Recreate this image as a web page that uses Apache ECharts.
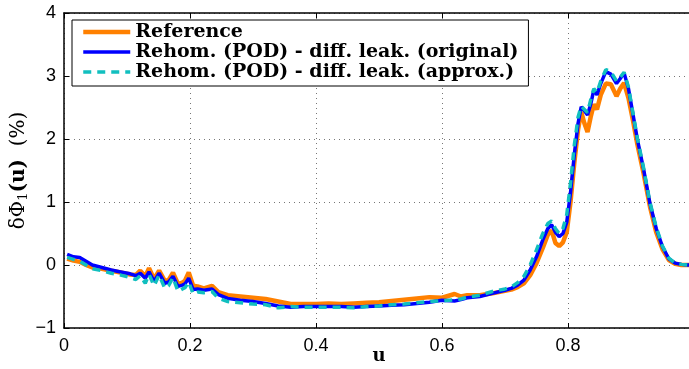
<!DOCTYPE html>
<html>
<head>
<meta charset="utf-8">
<script src="https://cdn.jsdelivr.net/npm/echarts@6/dist/echarts.min.js"></script>
<style>
  html, body { margin: 0; padding: 0; background: #fff; }
  #chart { width: 689px; height: 369px; }
</style>
</head>
<body>
<div id="chart"></div>
<script>
// Abscissa samples u
const uValues = [
  0.005, 0.015, 0.025, 0.035, 0.045, 0.06, 0.075, 0.09, 0.105, 0.114,
  0.121, 0.129, 0.135, 0.143, 0.151, 0.160, 0.166, 0.173, 0.181, 0.188,
  0.192, 0.198, 0.205, 0.212, 0.222, 0.235, 0.245, 0.26, 0.28, 0.30,
  0.32, 0.34, 0.36, 0.38, 0.40, 0.42, 0.44, 0.46, 0.48, 0.50,
  0.52, 0.54, 0.56, 0.58, 0.60, 0.62, 0.63, 0.64, 0.66, 0.68,
  0.70, 0.71, 0.72, 0.73, 0.74, 0.75, 0.76, 0.768, 0.774, 0.78,
  0.786, 0.792, 0.798, 0.804, 0.81, 0.816, 0.821, 0.826, 0.831, 0.836,
  0.841, 0.846, 0.852, 0.86, 0.868, 0.877, 0.883, 0.889, 0.896, 0.903,
  0.91, 0.92, 0.93, 0.94, 0.95, 0.96, 0.97, 0.98, 0.99, 1.0
];

// Reference solution (%)
const referenceValues = [
  0.10, 0.07, 0.05, 0.00, -0.04, -0.06, -0.09, -0.12, -0.15, -0.16,
  -0.09, -0.18, -0.05, -0.22, -0.09, -0.25, -0.24, -0.12, -0.30, -0.28,
  -0.25, -0.12, -0.33, -0.34, -0.37, -0.33, -0.43, -0.48, -0.50, -0.52,
  -0.54, -0.58, -0.62, -0.62, -0.62, -0.61, -0.62, -0.61, -0.60, -0.59,
  -0.57, -0.55, -0.53, -0.51, -0.52, -0.46, -0.50, -0.48, -0.48, -0.45,
  -0.41, -0.39, -0.35, -0.29, -0.16, 0.03, 0.27, 0.48, 0.55, 0.35,
  0.30, 0.36, 0.52, 1.00, 1.62, 2.15, 2.43, 2.25, 2.11, 2.35,
  2.55, 2.47, 2.70, 2.88, 2.87, 2.68, 2.80, 2.89, 2.65, 2.30,
  1.92, 1.45, 0.93, 0.52, 0.25, 0.08, 0.02, 0.00, 0.00, 0.00
];

// Rehomogenization (POD), original diffusion leakage (%)
const originalValues = [
  0.17, 0.13, 0.12, 0.06, 0.00, -0.04, -0.08, -0.11, -0.14, -0.17,
  -0.13, -0.21, -0.11, -0.26, -0.13, -0.29, -0.27, -0.18, -0.34, -0.32,
  -0.30, -0.21, -0.39, -0.38, -0.40, -0.38, -0.47, -0.53, -0.56, -0.58,
  -0.61, -0.65, -0.67, -0.66, -0.66, -0.66, -0.66, -0.67, -0.66, -0.65,
  -0.64, -0.63, -0.61, -0.59, -0.56, -0.57, -0.55, -0.52, -0.50, -0.45,
  -0.40, -0.37, -0.32, -0.24, -0.08, 0.13, 0.40, 0.58, 0.64, 0.52,
  0.45, 0.50, 0.68, 1.15, 1.75, 2.25, 2.51, 2.45, 2.38, 2.55,
  2.78, 2.70, 2.88, 3.07, 3.03, 2.88, 2.96, 3.05, 2.80, 2.40,
  2.00, 1.52, 0.98, 0.58, 0.29, 0.10, 0.03, 0.01, 0.00, 0.00
];

// Rehomogenization (POD), approximated diffusion leakage (%)
const approxValues = [
  0.12, 0.09, 0.06, 0.00, -0.06, -0.09, -0.13, -0.16, -0.20, -0.23,
  -0.17, -0.29, -0.15, -0.33, -0.16, -0.37, -0.33, -0.20, -0.42, -0.38,
  -0.36, -0.27, -0.46, -0.43, -0.44, -0.42, -0.53, -0.58, -0.60, -0.62,
  -0.63, -0.68, -0.66, -0.67, -0.67, -0.67, -0.67, -0.68, -0.66, -0.65,
  -0.63, -0.62, -0.60, -0.58, -0.57, -0.55, -0.54, -0.51, -0.48, -0.42,
  -0.38, -0.35, -0.28, -0.18, 0.00, 0.24, 0.50, 0.66, 0.70, 0.58,
  0.50, 0.58, 0.80, 1.30, 1.90, 2.35, 2.52, 2.47, 2.42, 2.62,
  2.80, 2.74, 2.92, 3.10, 3.07, 2.92, 2.98, 3.06, 2.82, 2.42,
  2.02, 1.54, 1.00, 0.60, 0.30, 0.11, 0.03, 0.01, 0.00, 0.00
];

const seriesNames = [
  'Reference',
  'Rehom. (POD) - diff. leak. (original)',
  'Rehom. (POD) - diff. leak. (approx.)'
];

const xTicks = [0, 0.2, 0.4, 0.6, 0.8, 1];
const yTicks = [-1, 0, 1, 2, 3, 4];

const ORANGE = '#FF8000';
const BLUE = '#0000FF';
const CYAN = '#11BFBF';

const pairs = (vals) => uValues.map((u, i) => [u, vals[i]]);

const tickFont = { fontFamily: 'Liberation Sans', fontSize: 18, color: '#000' };
const gridLine = { show: true, lineStyle: { color: '#777', type: [1, 4], width: 1 } };

const chart = echarts.init(document.getElementById('chart'), null, { renderer: 'canvas' });

chart.setOption({
  animation: false,
  backgroundColor: '#fff',
  grid: { left: 64, top: 13, right: -5, bottom: 41, outerBoundsMode: 'none', containLabel: false },
  legend: {
    orient: 'vertical',
    left: 72,
    top: 20,
    padding: [2, 10, 4, 9],
    itemGap: 0,
    itemWidth: 47,
    itemHeight: 20,
    borderColor: '#000',
    borderWidth: 1,
    backgroundColor: '#fff',
    data: [
      { name: seriesNames[0], lineStyle: { width: 4.5 } },
      { name: seriesNames[1], lineStyle: { width: 3.5 } },
      { name: seriesNames[2], lineStyle: { width: 3.5 } }
    ],
    itemStyle: { opacity: 0, borderWidth: 0 },
    textStyle: {
      fontFamily: 'DejaVu Serif',
      fontWeight: 'bold',
      fontSize: 19,
      color: '#000',
      lineHeight: 20
    }
  },
  xAxis: [
    {
      type: 'value',
      min: xTicks[0],
      max: xTicks[xTicks.length - 1],
      interval: 0.2,
      name: 'u',
      nameLocation: 'middle',
      nameGap: 19,
      nameMoveOverlap: false,
      nameTextStyle: { fontFamily: 'DejaVu Serif', fontWeight: 'bold', fontSize: 18, color: '#000', verticalAlign: 'top' },
      axisLine: { show: true, onZero: false, lineStyle: { color: '#000', width: 1.5 } },
      axisTick: { show: true, inside: true, length: 5, lineStyle: { color: '#000' } },
      axisLabel: { ...tickFont, margin: 9, formatter: (v) => String(v) },
      splitLine: gridLine
    },
    {
      type: 'value',
      position: 'top',
      min: xTicks[0],
      max: xTicks[xTicks.length - 1],
      interval: 0.2,
      axisLine: { show: true, onZero: false, lineStyle: { color: '#000', width: 1.5 } },
      axisTick: { show: true, inside: true, length: 5, lineStyle: { color: '#000' } },
      axisLabel: { show: false },
      splitLine: { show: false }
    }
  ],
  yAxis: {
    type: 'value',
    min: yTicks[0],
    max: yTicks[yTicks.length - 1],
    interval: 1,
    name: '{n|δΦ}{s|1}{b|(u)}{n|  (%)}',
    nameLocation: 'middle',
    nameGap: 34,
    nameMoveOverlap: false,
    nameRotate: 90,
    nameTextStyle: {
      rich: {
        n: { fontFamily: 'DejaVu Serif', fontSize: 20, color: '#000' },
        s: { fontFamily: 'DejaVu Serif', fontSize: 13, color: '#000', verticalAlign: 'bottom', padding: [9, 0, 0, 0] },
        b: { fontFamily: 'DejaVu Serif', fontWeight: 'bold', fontSize: 20, color: '#000' }
      }
    },
    axisLine: { show: true, onZero: false, lineStyle: { color: '#000', width: 1.5 } },
    axisTick: { show: true, inside: true, length: 5, lineStyle: { color: '#000' } },
    axisLabel: { ...tickFont, margin: 8, formatter: (v) => (v < 0 ? '\u2212' + Math.abs(v) : String(v)) },
    splitLine: gridLine
  },
  series: [
    {
      name: seriesNames[0],
      type: 'line',
      data: pairs(referenceValues),
      showSymbol: false,
      symbol: 'none',
      lineStyle: { color: ORANGE, width: 4.5 },
      itemStyle: { color: ORANGE },
      z: 2
    },
    {
      name: seriesNames[1],
      type: 'line',
      data: pairs(originalValues),
      showSymbol: false,
      symbol: 'none',
      lineStyle: { color: BLUE, width: 3.5 },
      itemStyle: { color: BLUE },
      z: 3
    },
    {
      name: seriesNames[2],
      type: 'line',
      data: pairs(approxValues),
      showSymbol: false,
      symbol: 'none',
      lineStyle: { color: CYAN, width: 3.5, type: [8, 6] },
      itemStyle: { color: CYAN },
      z: 4
    }
  ]
});
</script>
</body>
</html>
